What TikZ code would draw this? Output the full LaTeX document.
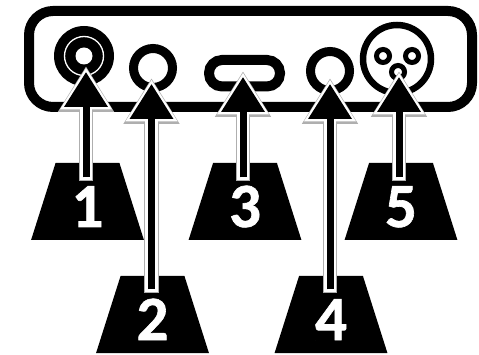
\documentclass[tikz,border=0pt]{standalone}
\usepackage{fontspec}
\setmainfont[BoldFeatures={FakeBold=1}]{Carlito}
\usetikzlibrary{arrows.meta,shapes.geometric}
\definecolor{rimgray}{RGB}{175,175,175}

\begin{document}
\begin{tikzpicture}[
      x=1pt,
      y=-1pt,
      panel/.style={draw=black, line width=10pt, rounded corners=24pt},
      jack/.style={circle, draw=black, fill=white, line width=9pt, inner sep=0pt, outer sep=0pt, minimum size=39pt},
      disc/.style={circle, fill=black, inner sep=0pt, outer sep=0pt, minimum size=60pt},
      halo/.style={circle, draw=white, line width=1.3pt, inner sep=0pt, minimum size=39pt},
      hole/.style={circle, fill=white, inner sep=0pt, minimum size=17pt},
      socket/.style={circle, draw=black, fill=white, line width=6.5pt, inner sep=0pt, outer sep=0pt, minimum size=68pt},
      contact/.style={circle, draw=black, fill=white, line width=5pt, inner sep=0pt, outer sep=0pt, minimum size=13pt},
      tag/.style={
        trapezium,
        trapezium angle=76.5,
        trapezium stretches=true,
        fill=black,
        text=white,
        font=\fontsize{63}{63}\selectfont\bfseries,
        inner sep=0pt,
        outer sep=0pt,
        minimum width=113pt,
        minimum height=77pt,
        text height=51pt,
        text depth=0pt
      },
      pin/.style={
        draw=rimgray,
        line width=14.5pt,
        -{Triangle[length=46pt,width=53pt]},
        postaction={draw=white, line width=12.5pt, shorten >=1.5pt, shorten <=1pt, -{Triangle[length=42pt,width=49pt]}},
        postaction={draw=black, line width=7pt, shorten >=6pt, shorten <=3.5pt, -{Triangle[length=35pt,width=42pt]}}
      },
  ]
        \useasboundingbox (0,0) rectangle (479,355);

        % front panel
        \draw[panel] (29,11) rectangle (472,107);

        % 1. ring jack
        \node[disc] (jack1) at (84,56) {};
        \node[halo] (ring1) at (jack1) {};
        \node[hole] (hole1) at (jack1) {};
        % 2. round jack
        \node[jack] (jack2) at (153,68) {};
        % 3. slot
        \draw[draw=black, line width=10pt, rounded corners=13pt] (209,60) rectangle (280,86.5);
        % 4. round jack
        \node[jack] (jack4) at (330,71) {};
        % 5. three contact socket
        \node[socket] (socket5) at (397,59) {};
        \node[contact] (contact5a) at (383,56) {};
        \node[contact] (contact5b) at (412,56) {};
        \node[contact] (contact5c) at (398,72) {};

        % labels
        \node[tag] (tag1) at (87.5,201.5) {1};
        \node[tag] (tag2) at (152.5,314.5) {2};
        \node[tag] (tag3) at (245,201.5) {3};
        \node[tag] (tag4) at (331,314.5) {4};
        \node[tag] (tag5) at (401,201.5) {5};

        % pointers
        \coordinate (foot1) at (86,181);
        \coordinate (tip1) at (86,66);
        \coordinate (foot2) at (151.5,293);
        \coordinate (tip2) at (151.5,78);
        \coordinate (foot3) at (243,181);
        \coordinate (tip3) at (243,71);
        \coordinate (foot4) at (330,293);
        \coordinate (tip4) at (330,78);
        \coordinate (foot5) at (399,181);
        \coordinate (tip5) at (399,71);
        \draw[pin] (foot1) -- (tip1);
        \draw[pin] (foot2) -- (tip2);
        \draw[pin] (foot3) -- (tip3);
        \draw[pin] (foot4) -- (tip4);
        \draw[pin] (foot5) -- (tip5);
  \end{tikzpicture}
\end{document}
